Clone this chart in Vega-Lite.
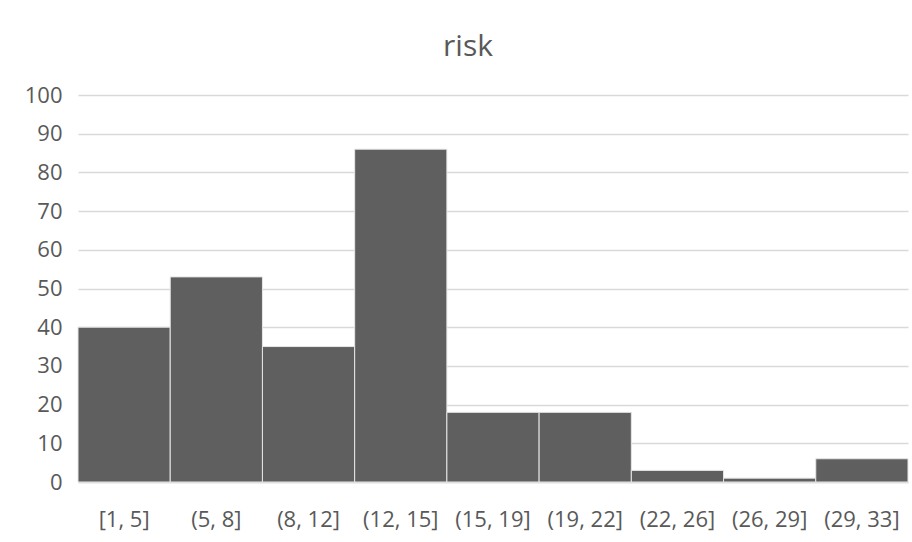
{
  "$schema": "https://vega.github.io/schema/vega-lite/v6.json",
  "autosize": {"type": "none"},
  "width": 830,
  "height": 387,
  "padding": {"left": 78, "top": 95, "right": 4, "bottom": 60},
  "background": "white",
  "title": {
    "text": "risk",
    "font": "Open Sans",
    "fontSize": 30,
    "fontWeight": "normal",
    "color": "#595959",
    "anchor": "middle",
    "baseline": "alphabetic",
    "dx": -25,
    "offset": -2
  },
  "data": {
    "values": [
      {"bin": "[1, 5]", "count": 40},
      {"bin": "(5, 8]", "count": 53},
      {"bin": "(8, 12]", "count": 35},
      {"bin": "(12, 15]", "count": 86},
      {"bin": "(15, 19]", "count": 18},
      {"bin": "(19, 22]", "count": 18},
      {"bin": "(22, 26]", "count": 3},
      {"bin": "(26, 29]", "count": 1},
      {"bin": "(29, 33]", "count": 6}
    ]
  },
  "mark": {"type": "bar", "color": "#5f5f5f", "stroke": "#e6e6e6", "strokeWidth": 1},
  "encoding": {
    "x": {
      "field": "bin",
      "type": "nominal",
      "sort": null,
      "scale": {"paddingInner": 0, "paddingOuter": 0},
      "axis": {
        "title": null,
        "labelAngle": 0,
        "ticks": false,
        "domain": true,
        "domainColor": "#d9d9d9",
        "domainWidth": 1.5,
        "labelFont": "Open Sans",
        "labelFontSize": 22,
        "labelColor": "#595959",
        "labelPadding": 27,
        "grid": false
      }
    },
    "y": {
      "field": "count",
      "type": "quantitative",
      "scale": {"domain": [0, 100]},
      "axis": {
        "title": null,
        "values": [0, 10, 20, 30, 40, 50, 60, 70, 80, 90, 100],
        "ticks": false,
        "domain": false,
        "gridColor": "#d9d9d9",
        "gridWidth": 1.5,
        "labelFont": "Open Sans",
        "labelFontSize": 22,
        "labelColor": "#595959",
        "labelPadding": 16
      }
    }
  },
  "config": {"view": {"stroke": null}}
}
